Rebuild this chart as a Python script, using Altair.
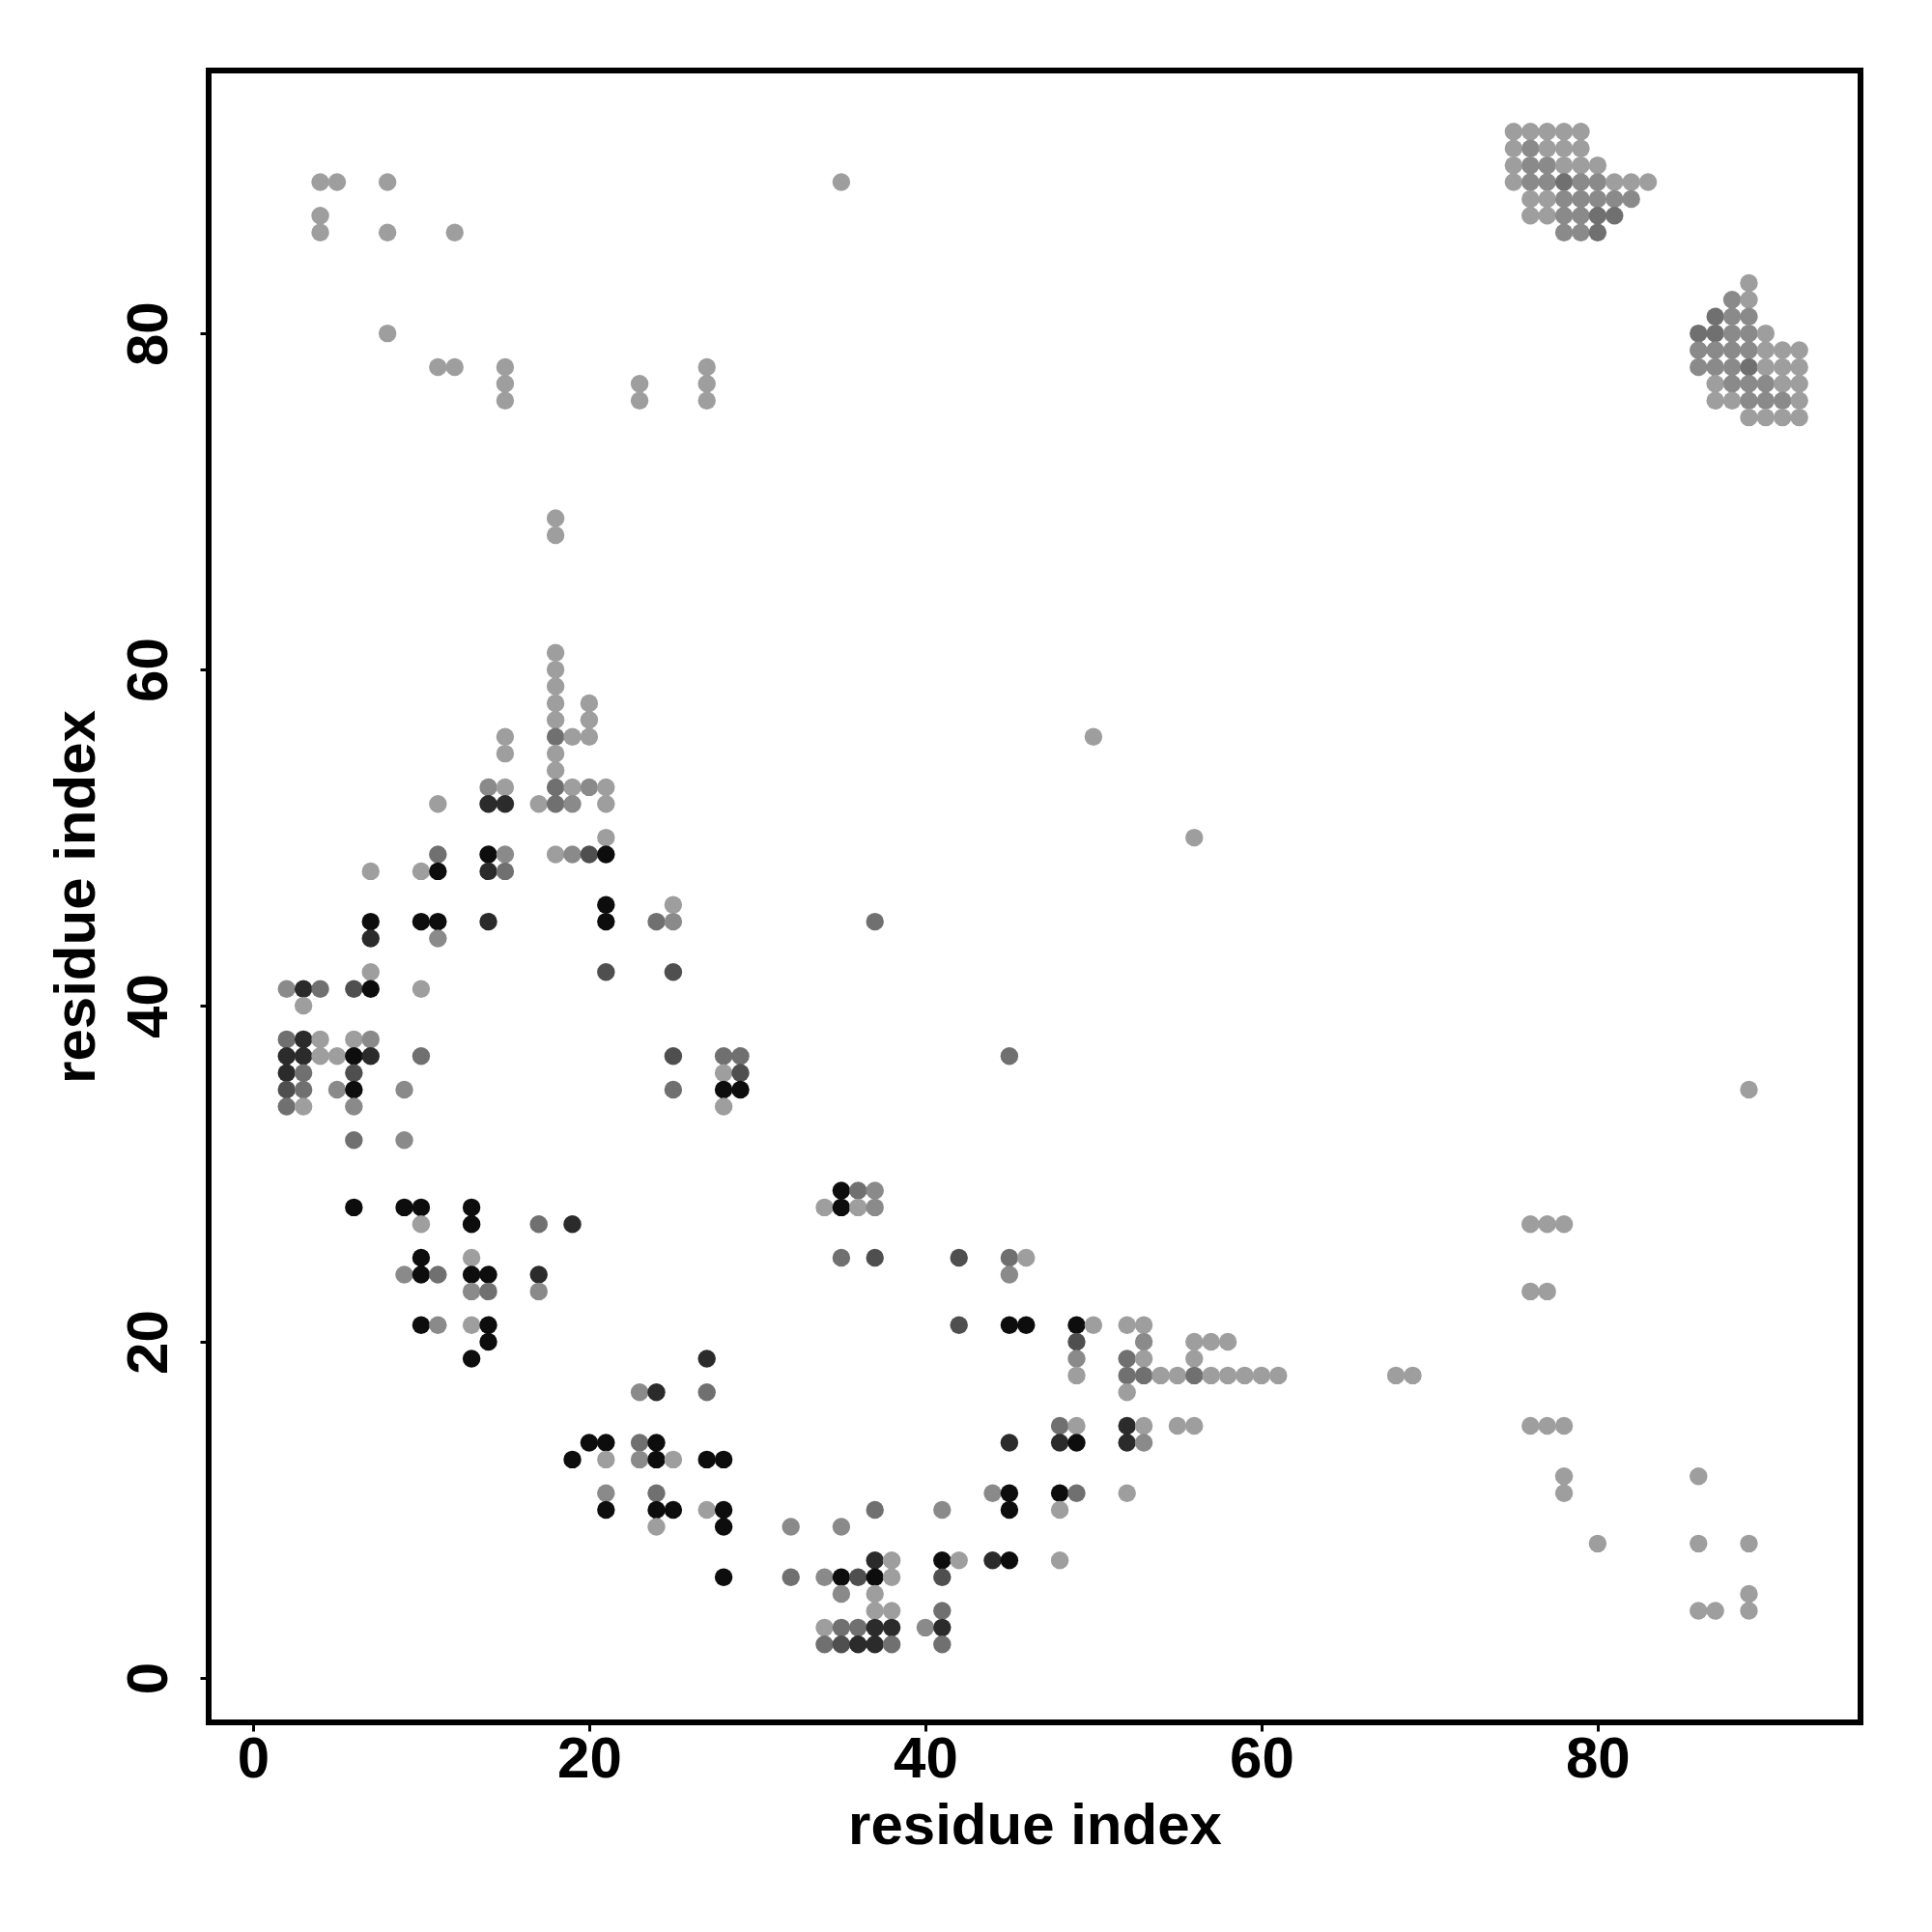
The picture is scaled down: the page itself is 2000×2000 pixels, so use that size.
import altair as alt
import pandas as pd

# Contact map: for each residue-index row (y), the x positions and a grey shade code per point
row_y = [92, 91, 90, 89, 88, 87, 86, 83, 82, 81, 80, 79, 78, 77, 76, 75,
         69, 68, 61, 60, 59, 58, 57, 56, 55, 54, 53, 52, 50, 49, 48, 46, 45, 44,
         42, 41, 40, 38, 37, 36, 35, 34, 32, 29, 28, 27, 25, 24, 23, 21, 20, 19,
         18, 17, 15, 14, 13, 12, 11, 10, 9, 8, 7, 6, 5, 4, 3, 2]

row_x = [
    [75, 76, 77, 78, 79],
    [75, 76, 77, 78, 79],
    [75, 76, 77, 78, 79, 80],
    [4, 5, 8, 35, 75, 76, 77, 78, 79, 80, 81, 82, 83],
    [76, 77, 78, 79, 80, 81, 82],
    [4, 76, 77, 78, 79, 80, 81],
    [4, 8, 12, 78, 79, 80],
    [89],
    [88, 89],
    [87, 88, 89],
    [8, 86, 87, 88, 89, 90],
    [86, 87, 88, 89, 90, 91, 92],
    [11, 12, 15, 27, 86, 87, 88, 89, 90, 91, 92],
    [15, 23, 27, 87, 88, 89, 90, 91, 92],
    [15, 23, 27, 87, 88, 89, 90, 91, 92],
    [89, 90, 91, 92],
    [18],
    [18],
    [18],
    [18],
    [18],
    [18, 20],
    [18, 20],
    [15, 18, 19, 20, 50],
    [15, 18],
    [18],
    [14, 15, 18, 19, 20, 21],
    [11, 14, 15, 17, 18, 19, 21],
    [21, 56],
    [11, 14, 15, 18, 19, 20, 21],
    [7, 10, 11, 14, 15],
    [21, 25],
    [7, 10, 11, 14, 21, 24, 25, 37],
    [7, 11],
    [7, 21, 25],
    [2, 3, 4, 6, 7, 10],
    [3],
    [2, 3, 4, 6, 7],
    [2, 3, 4, 5, 6, 7, 10, 25, 28, 29, 45],
    [2, 3, 6, 28, 29],
    [2, 3, 5, 6, 9, 25, 28, 29, 89],
    [2, 3, 6, 28],
    [6, 9],
    [35, 36, 37],
    [6, 9, 10, 13, 34, 35, 36, 37],
    [10, 13, 17, 19, 76, 77, 78],
    [10, 13, 35, 37, 42, 45, 46],
    [9, 10, 11, 13, 14, 17, 45],
    [13, 14, 17, 76, 77],
    [10, 11, 13, 14, 42, 45, 46, 49, 50, 52, 53],
    [14, 49, 53, 56, 57, 58],
    [13, 27, 49, 52, 53, 56],
    [49, 52, 53, 54, 55, 56, 57, 58, 59, 60, 61, 68, 69],
    [23, 24, 27, 52],
    [48, 49, 52, 53, 55, 56, 76, 77, 78],
    [20, 21, 23, 24, 45, 48, 49, 52, 53],
    [19, 21, 23, 24, 25, 27, 28],
    [78, 86],
    [21, 24, 44, 45, 48, 49, 52, 78],
    [21, 24, 25, 27, 28, 37, 41, 45, 48],
    [24, 28, 32, 35],
    [80, 86, 89],
    [37, 38, 41, 42, 44, 45, 48],
    [28, 32, 34, 35, 36, 37, 38, 41],
    [35, 37, 89],
    [37, 38, 41, 86, 87, 89],
    [34, 35, 36, 37, 38, 40, 41],
    [34, 35, 36, 37, 38, 41],
]

# shade codes: L light, M mid-light, G mid, D dark, K very dark, B black
row_shade = [
    "LLLLL",
    "LMLLL",
    "LMMLLL",
    "LLLLLMMGMMLLL",
    "LLMMMMM",
    "LLLMMGG",
    "LLLMMG",
    "L",
    "ML",
    "GMM",
    "LGGMML",
    "MMMMLLL",
    "LLLLMMMGLLL",
    "LLLLMMMLL",
    "LLLLLMMML",
    "LLLL",
    "L",
    "L",
    "L",
    "L",
    "L",
    "LL",
    "LL",
    "LGLLL",
    "LL",
    "L",
    "MLGLML",
    "LKKLGML",
    "LL",
    "GBMLMDB",
    "LLBKG",
    "BL",
    "BBBKBGMG",
    "KM",
    "LDD",
    "MKGDBL",
    "L",
    "GKLLM",
    "KKLLBKGDGGG",
    "KGDLD",
    "DGMBMGBBL",
    "GLML",
    "GM",
    "BGM",
    "BBBBLBLM",
    "LBGKLLL",
    "BLGDDGL",
    "MBGBBKM",
    "MGMLL",
    "BMLBDBBBLLL",
    "BDMLLL",
    "BKMGLL",
    "LGGLLGLLLLLLL",
    "MKGL",
    "GLKLLLLLL",
    "BBGBKKBKM",
    "BLMBLBB",
    "LL",
    "MGMBBGLL",
    "BBBLBGMBL",
    "LBMM",
    "LLL",
    "KLBLKBL",
    "BGMBDBLD",
    "MLL",
    "LLGLLL",
    "LGGKKMK",
    "GDKKGG",
]

shade_grey = {"L": "#9e9e9e", "M": "#8a8a8a", "G": "#707070",
              "D": "#4f4f4f", "K": "#2b2b2b", "B": "#0d0d0d"}

x_ticks = [0, 20, 40, 60, 80]
y_ticks = [0, 20, 40, 60, 80]

records = []
for yv, xs, sh in zip(row_y, row_x, row_shade):
    for xv, c in zip(xs, sh):
        records.append({"i": xv, "j": yv, "grey": shade_grey[c]})
df = pd.DataFrame(records)

FONT = "Liberation Sans"

chart = alt.Chart(df).mark_circle(size=340, opacity=1).encode(
    x=alt.X("i:Q",
            scale=alt.Scale(domain=[-2.64, 95.64], nice=False, zero=False),
            axis=alt.Axis(values=x_ticks, title="residue index", grid=False, domain=False,
                          tickSize=9, tickWidth=3, tickColor="black",
                          labelFont=FONT, labelFontSize=60, labelFontWeight="bold",
                          labelColor="black", labelPadding=0, labelFlush=False,
                          titleFont=FONT, titleFontSize=60, titleFontWeight="bold",
                          titleColor="black", titlePadding=10)),
    y=alt.Y("j:Q",
            scale=alt.Scale(domain=[-2.64, 95.64], nice=False, zero=False),
            axis=alt.Axis(values=y_ticks, title="residue index", grid=False, domain=False,
                          tickSize=9, tickWidth=3, tickColor="black",
                          labelFont=FONT, labelFontSize=60, labelFontWeight="bold",
                          labelColor="black", labelAngle=270, labelAlign="center",
                          labelBaseline="bottom", labelPadding=22, labelFlush=False,
                          titleFont=FONT, titleFontSize=60, titleFontWeight="bold",
                          titleColor="black", titlePadding=14)),
    color=alt.Color("grey:N", scale=None, legend=None),
).properties(
    width=1710, height=1710,
    padding={"left": 208, "top": 65, "right": 60, "bottom": 200},
    autosize=alt.AutoSizeParams(type="none"),
    background="white",
).configure_view(
    stroke="black", strokeWidth=6, fill="white"
)

chart.save("out.html", embed_options={"renderer": "svg", "actions": False})
